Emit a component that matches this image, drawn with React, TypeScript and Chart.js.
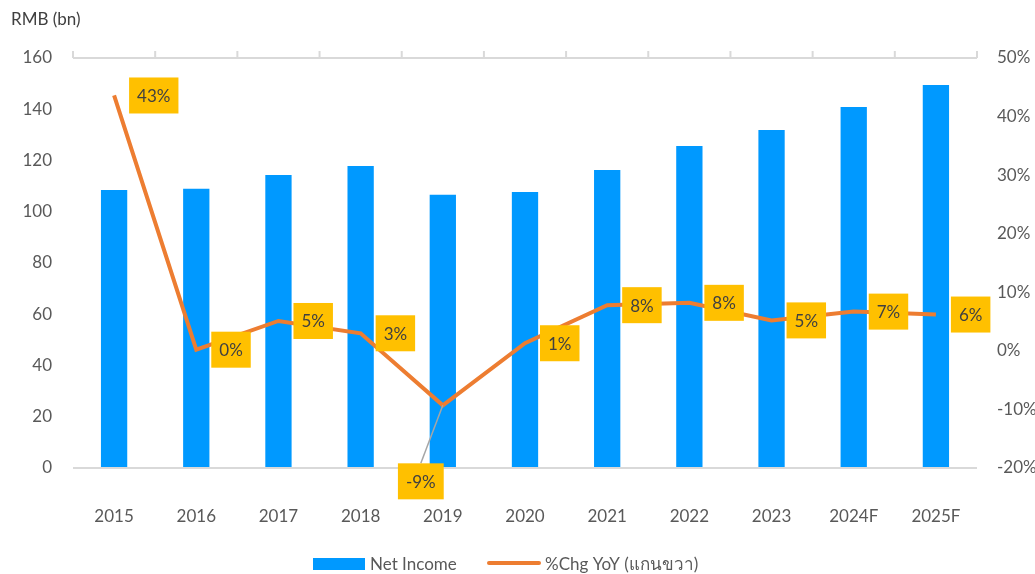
import React, { useEffect, useRef } from "react";
import { Chart, registerables } from "chart.js";

Chart.register(...registerables);

const categories = ["2015", "2016", "2017", "2018", "2019", "2020", "2021", "2022", "2023", "2024F", "2025F"];
const netIncome = [108.5, 109, 114.3, 117.9, 106.6, 107.7, 116.3, 125.7, 131.9, 140.9, 149.5];
const yoyChange = [43.6, 0.2, 5.1, 3.0, -9.3, 1.3, 7.8, 8.2, 5.2, 6.7, 6.2];
const yoyLabels = ["43%", "0%", "5%", "3%", "-9%", "1%", "8%", "8%", "5%", "7%", "6%"];
const leftTicks = [0, 20, 40, 60, 80, 100, 120, 140, 160];
const rightTicks = [-20, -10, 0, 10, 20, 30, 40, 50];

const FONT = "Lato, 'Open Sans', 'DejaVu Sans', sans-serif";
const TEXT = "#595959";
const BLUE = "#0099FF";
const ORANGE = "#ED7D31";
const LABEL_BG = "#FFC000";
const AXIS_LINE = "#D9D9D9";

const decorPlugin = {
  id: "decor",
  afterDatasetsDraw(chart: any) {
    const { ctx, chartArea } = chart;
    const x = chart.scales.x;
    ctx.save();
    // top frame line with upward ticks at category boundaries
    ctx.strokeStyle = AXIS_LINE;
    ctx.lineWidth = 2;
    ctx.beginPath();
    ctx.moveTo(chartArea.left, chartArea.top);
    ctx.lineTo(chartArea.right, chartArea.top);
    const n = categories.length;
    const step = (chartArea.right - chartArea.left) / n;
    for (let i = 0; i <= n; i++) {
      const tx = chartArea.left + i * step;
      ctx.moveTo(tx, chartArea.top);
      ctx.lineTo(tx, chartArea.top - 7);
    }
    // bottom axis line
    ctx.moveTo(chartArea.left, chartArea.bottom);
    ctx.lineTo(chartArea.right, chartArea.bottom);
    ctx.stroke();

    // data labels
    const meta = chart.getDatasetMeta(1);
    ctx.font = `17px ${FONT}`;
    ctx.textAlign = "center";
    ctx.textBaseline = "middle";
    meta.data.forEach((pt: any, i: number) => {
      const label = yoyLabels[i];
      const tw = ctx.measureText(label).width;
      const w = tw + 16;
      const h = 36;
      let cx = pt.x + 15 + w / 2;
      let cy = pt.y;
      if (i === 4) {
        cx = pt.x - 22;
        cy = pt.y + 76;
        ctx.strokeStyle = "#A6A6A6";
        ctx.lineWidth = 1.5;
        ctx.beginPath();
        ctx.moveTo(pt.x, pt.y);
        ctx.lineTo(cx, cy - h / 2);
        ctx.stroke();
      }
      ctx.fillStyle = LABEL_BG;
      ctx.fillRect(cx - w / 2, cy - h / 2, w, h);
      ctx.fillStyle = "#404040";
      ctx.fillText(label, cx, cy + 1);
    });

    // axis title
    ctx.font = `17px ${FONT}`;
    ctx.textAlign = "left";
    ctx.fillStyle = "#404040";
    ctx.fillText("RMB (bn)", 11, 20);

    // legend
    ctx.fillStyle = BLUE;
    ctx.fillRect(313, 558, 52, 12);
    ctx.fillStyle = TEXT;
    ctx.fillText("Net Income", 370, 565);
    ctx.strokeStyle = ORANGE;
    ctx.lineWidth = 4;
    ctx.lineCap = "round";
    ctx.beginPath();
    ctx.moveTo(489, 563);
    ctx.lineTo(539, 563);
    ctx.stroke();
    ctx.fillText("%Chg YoY (แกนขวา)", 545, 565);
    ctx.restore();
  },
};

export default function App() {
  const ref = useRef<HTMLCanvasElement | null>(null);
  useEffect(() => {
    document.body.style.margin = "0";
    const chart = new Chart(ref.current as HTMLCanvasElement, {
      data: {
        labels: categories,
        datasets: [
          {
            type: "bar",
            label: "Net Income",
            data: netIncome,
            backgroundColor: BLUE,
            yAxisID: "y",
            barPercentage: 0.32,
            categoryPercentage: 1,
            order: 2,
          },
          {
            type: "line",
            label: "%Chg YoY (แกนขวา)",
            data: yoyChange,
            borderColor: ORANGE,
            borderWidth: 4,
            pointRadius: 0,
            tension: 0,
            yAxisID: "y1",
            order: 1,
          },
        ],
      } as any,
      options: {
        animation: false,
        responsive: false,
        maintainAspectRatio: false,
        layout: { padding: { top: 58, bottom: 0, left: 0, right: 0 } },
        plugins: { legend: { display: false }, tooltip: { enabled: false } },
        scales: {
          x: {
            grid: { display: false, drawTicks: false },
            border: { display: false },
            ticks: { color: TEXT, font: { family: FONT, size: 17 }, padding: 38, maxRotation: 0 },
            afterFit: (s: any) => {
              s.height = 106;
            },
          },
          y: {
            position: "left",
            min: 0,
            max: 160,
            afterBuildTicks: (s: any) => {
              s.ticks = leftTicks.map((v) => ({ value: v }));
            },
            grid: { display: false, drawTicks: false },
            border: { display: false },
            ticks: { color: TEXT, font: { family: FONT, size: 17 }, padding: 21 },
            afterFit: (s: any) => {
              s.width = 73;
            },
          },
          y1: {
            position: "right",
            min: -20,
            max: 50,
            afterBuildTicks: (s: any) => {
              s.ticks = rightTicks.map((v) => ({ value: v }));
            },
            grid: { display: false, drawTicks: false },
            border: { display: false },
            ticks: {
              color: TEXT,
              font: { family: FONT, size: 17 },
              padding: 20,
              callback: (v: any) => `${v}%`,
            },
            afterFit: (s: any) => {
              s.width = 58;
            },
          },
        },
      } as any,
      plugins: [decorPlugin],
    });
    return () => chart.destroy();
  }, []);
  return (
    <div style={{ position: "absolute", left: 0, top: 0, width: 1035, height: 574 }}>
      <canvas ref={ref} width={1035} height={574} style={{ width: 1035, height: 574 }} />
    </div>
  );
}
